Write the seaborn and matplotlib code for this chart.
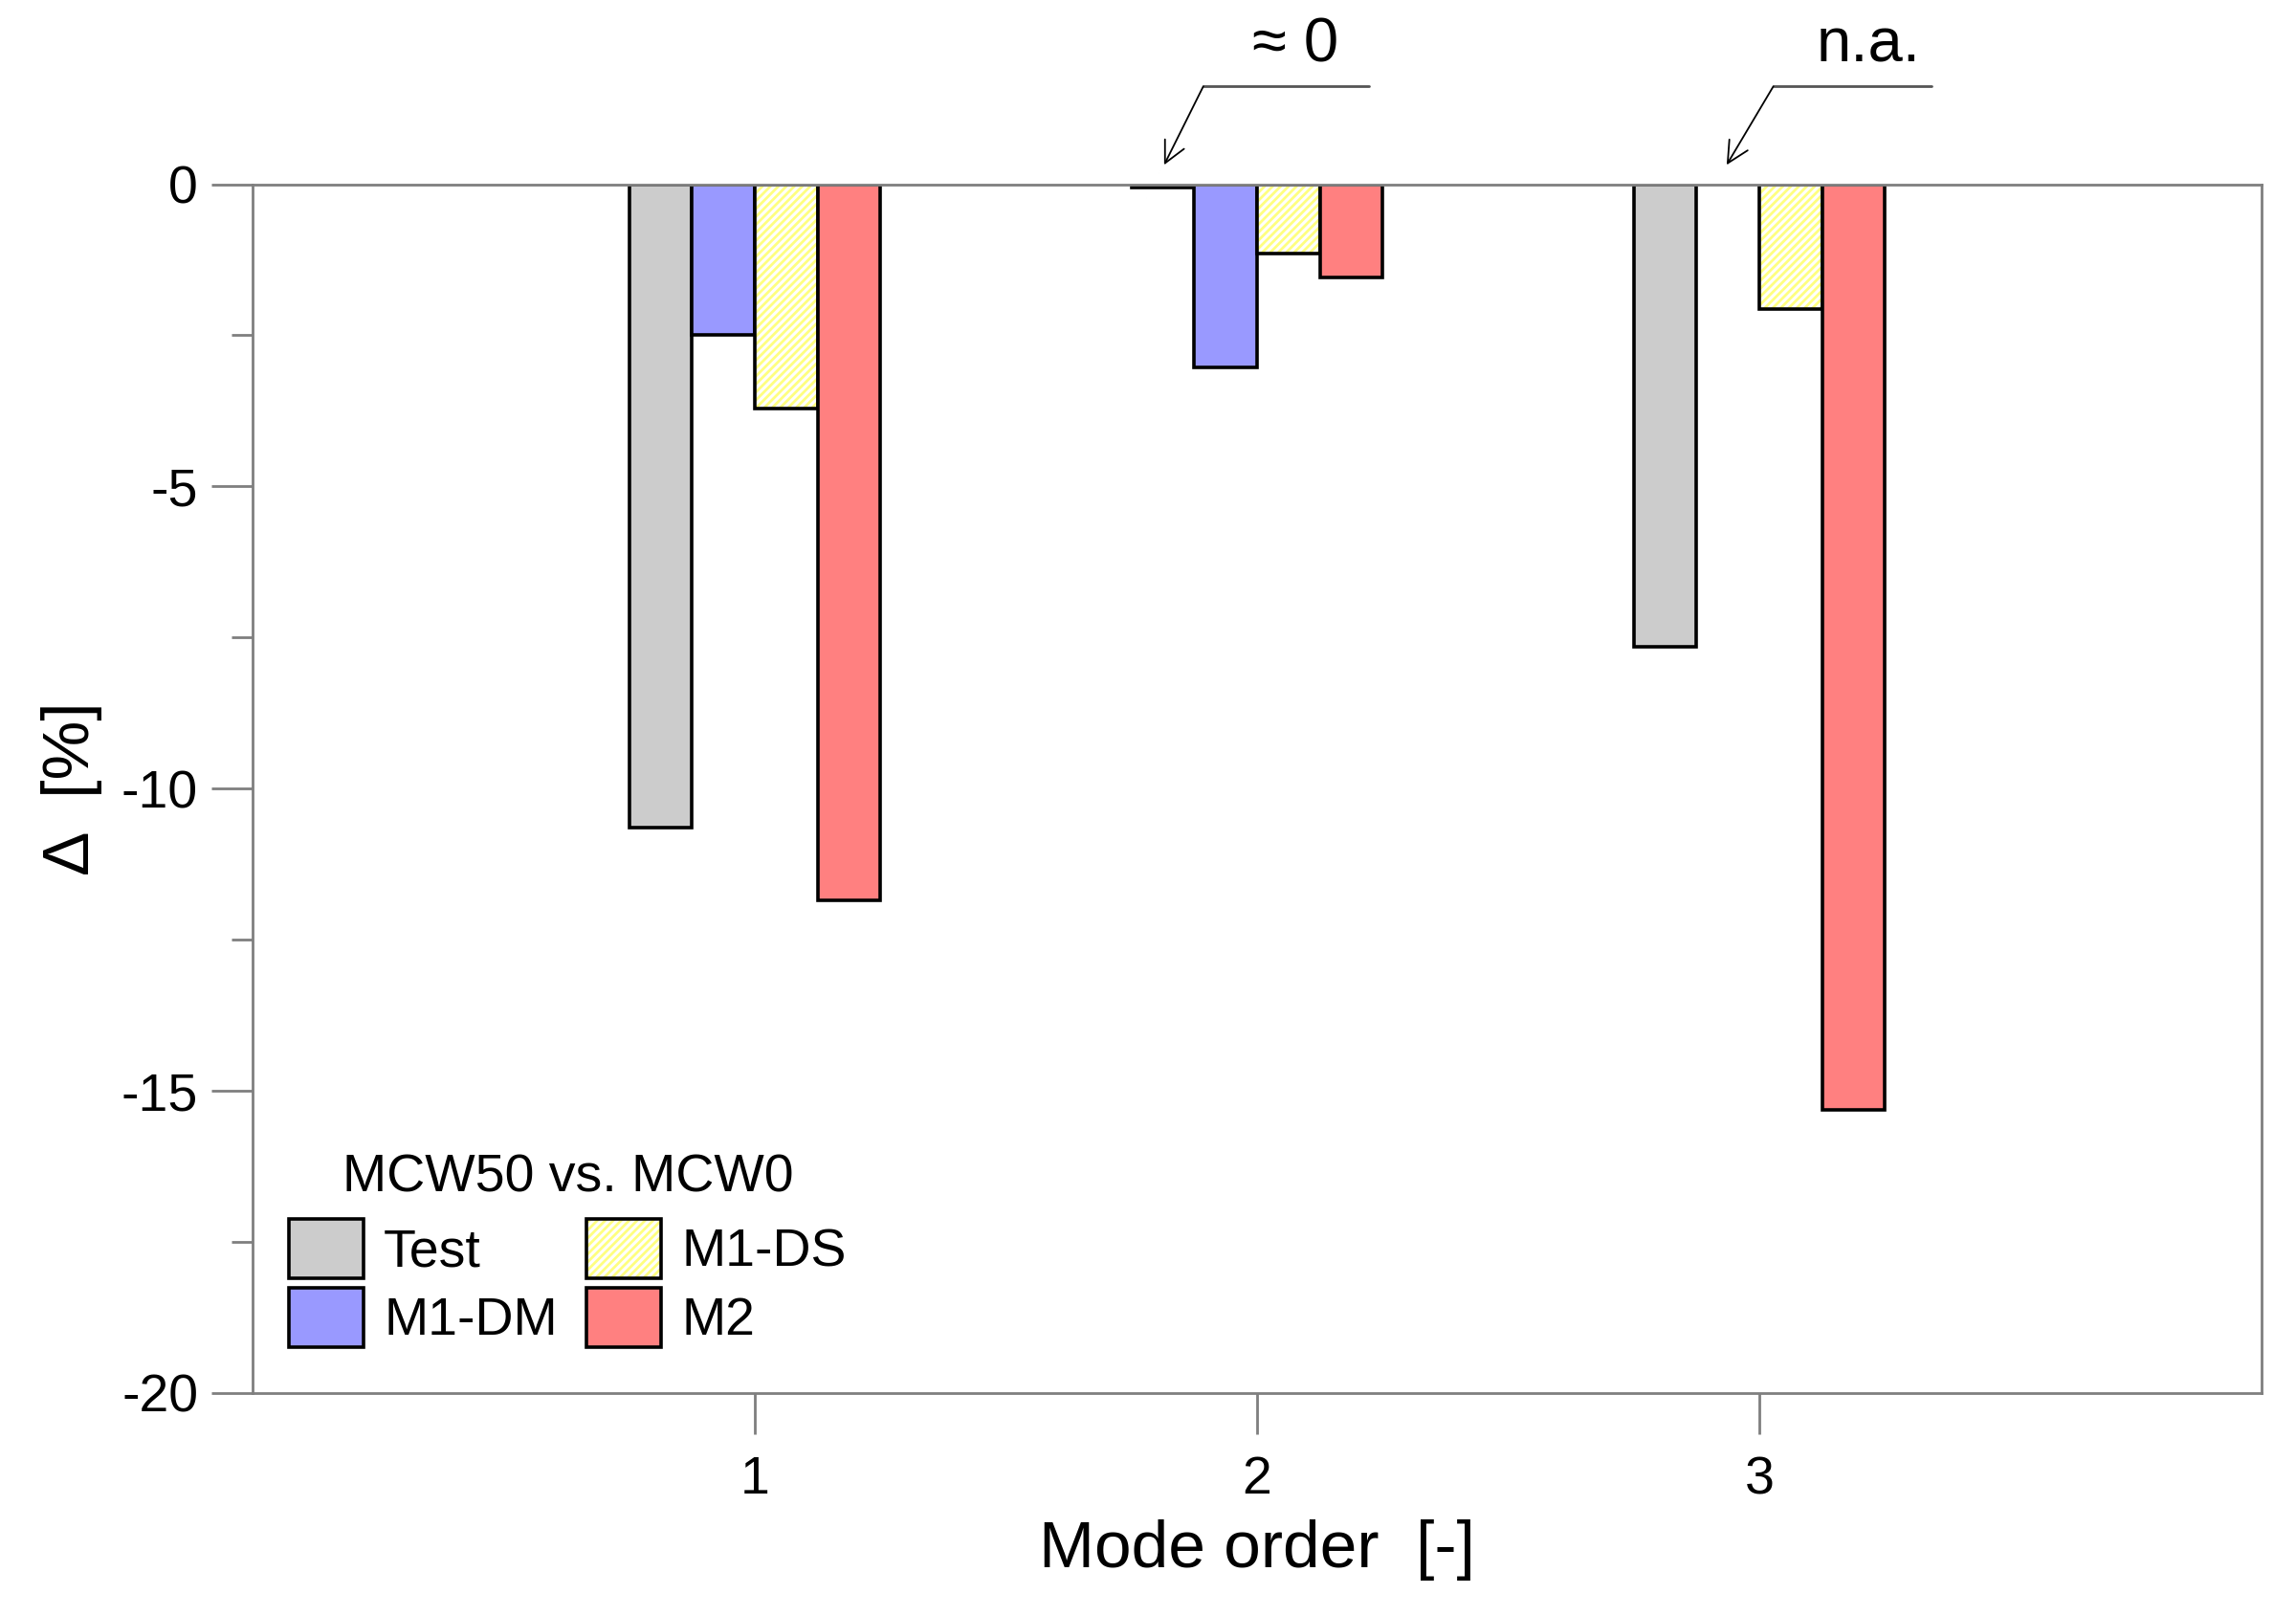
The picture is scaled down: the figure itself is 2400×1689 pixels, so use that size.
import numpy as np
import pandas as pd
import matplotlib
matplotlib.use("Agg")
import matplotlib.pyplot as plt
import matplotlib.patches as mpatches
import matplotlib.colors as mcolors
import seaborn as sns

# values (Δ in %)
modes = [1, 2, 3]
models = ["Test", "M1-DM", "M1-DS", "M2"]
test = [-10.65, -0.05, -7.66]
m1_dm = [-2.50, -3.03, np.nan]   # n.a. for mode 3
m1_ds = [-3.71, -1.14, -2.06]
m2 = [-11.85, -1.55, -15.32]

colors = {"Test": "#cccccc", "M1-DM": "#9999ff", "M1-DS": "#ffffff", "M2": "#ff8080"}
hatch_col = "#ffff80"

df = pd.DataFrame({
    "mode": modes * 4,
    "model": [m for m in models for _ in modes],
    "delta": test + m1_dm + m1_ds + m2,
}).dropna()

sns.set_style("white")
plt.rcParams["font.family"] = ["Liberation Sans Narrow", "Liberation Sans", "DejaVu Sans"]
plt.rcParams["hatch.linewidth"] = 2.0
plt.rcParams["axes.unicode_minus"] = False
plt.rcParams["text.color"] = "black"
plt.rcParams["axes.labelcolor"] = "black"
plt.rcParams["xtick.color"] = "black"
plt.rcParams["ytick.color"] = "black"

fig = plt.figure(figsize=(24, 16.89), dpi=100)
ax = fig.add_axes([0.110, 0.138, 0.875, 0.748])

sns.barplot(data=df, x="mode", y="delta", hue="model", hue_order=models,
            palette=colors, saturation=1, native_scale=True, width=0.5, gap=0,
            edgecolor="black", linewidth=2.6, errorbar=None, legend=False, ax=ax)

# hatched yellow for M1-DS
ds_cont = ax.containers[models.index("M1-DS")]
for p in ds_cont.patches:
    p.set_hatch("////")
    p._hatch_color = mcolors.to_rgba(hatch_col)

ax.set_xlim(0, 4)
ax.set_ylim(-20, 0)
ax.set_xticks(modes)
ax.set_xticklabels([str(m) for m in modes])
ax.set_yticks([0, -5, -10, -15, -20])
ax.set_yticks(np.arange(-17.5, 0, 5), minor=True)

for s in ax.spines.values():
    s.set_color("#7f7f7f")
    s.set_linewidth(2.0)
    s.set_visible(True)

ax.tick_params(axis="both", which="major", direction="out", length=31, width=2,
               color="#7f7f7f", labelcolor="black", labelsize=40, pad=10,
               bottom=True, left=True)
ax.tick_params(axis="y", which="minor", direction="out", length=16, width=2,
               color="#7f7f7f", left=True)
ax.tick_params(axis="x", which="major", pad=16)

ax.set_xlabel("Mode order  [-]", fontsize=50, labelpad=11)
ax.set_ylabel("Δ  [%]", fontsize=50, labelpad=14)

# annotations above the frame
notes = [("≈ 0", 1.815, 1.893, 2.222, 2.077), ("n.a.", 2.935, 3.028, 3.343, 3.218)]
for txt, tip_x, knee_x, end_x, txt_x in notes:
    ax.annotate("", xy=(tip_x, 0.32), xytext=(knee_x, 1.62),
                arrowprops=dict(arrowstyle="->", color="black", lw=1.3,
                                shrinkA=0, shrinkB=0, mutation_scale=40),
                annotation_clip=False)
    ax.plot([knee_x, end_x], [1.62, 1.62], color="#555555", lw=2, clip_on=False)
    ax.text(txt_x, 2.3, txt, ha="center", va="center", fontsize=47)

handles = []
for m in models:
    h = mpatches.Patch(facecolor=colors[m], edgecolor="black", linewidth=2.6, label=m)
    if m == "M1-DS":
        h.set_hatch("////")
        h._hatch_color = mcolors.to_rgba(hatch_col)
    handles.append(h)

leg = ax.legend(handles=handles, ncol=2, title="MCW50 vs. MCW0", loc="lower left",
                bbox_to_anchor=(-0.003, 0.003), frameon=False, fontsize=40,
                title_fontsize=40, handlelength=1.4, handleheight=1.33,
                handletextpad=0.38, columnspacing=0.55, labelspacing=0.18,
                borderpad=0.3)
leg._legend_box.sep = 12

fig.savefig("out.png", dpi=100, facecolor="white")
